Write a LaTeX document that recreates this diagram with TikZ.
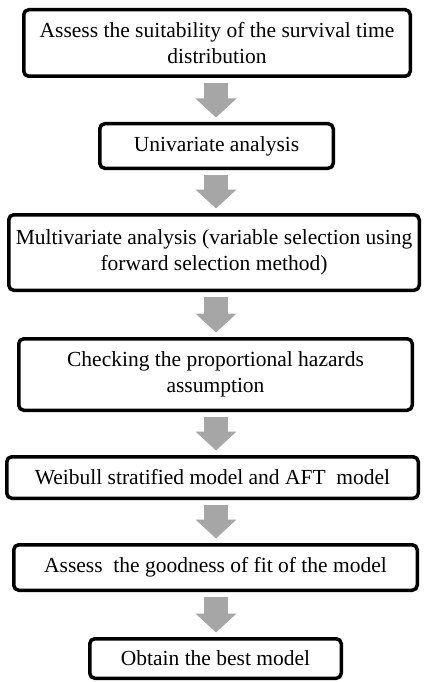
\documentclass[tikz,border=0pt]{standalone}
\usepackage{fontspec}
\setmainfont{Liberation Serif}
\usetikzlibrary{arrows.meta}
\definecolor{arrowgray}{RGB}{166,166,166}
\begin{document}
\begin{tikzpicture}[x=1pt,y=-1pt,
  stepbox/.style={draw=black, line width=3.5pt, rounded corners=5pt, fill=white,
    inner sep=0pt, align=center, font=\fontsize{21.5}{26}\selectfont},
  flow/.style={draw=arrowgray, line width=24pt,
    -{Triangle[width=40pt,length=19pt]}, shorten <=5pt, shorten >=4.5pt}]
\useasboundingbox (0,0) rectangle (424,682);
\coordinate (mid) at (216,0);
\node[stepbox, minimum width=386.5pt, minimum height=66.5pt] (b1) at (217,43)
  {Assess the suitability of the survival time\\distribution};
\node[stepbox, minimum width=233.5pt, minimum height=44.5pt] (b2) at (216.5,146)
  {Univariate analysis};
\node[stepbox, minimum width=410.5pt, minimum height=75.5pt] (b3) at (214,252.5)
  {Multivariate analysis (variable selection using\\forward selection method)};
\node[stepbox, minimum width=393.5pt, minimum height=71.5pt] (b4) at (215.5,374.5)
  {Checking the proportional hazards\\assumption};
\node[stepbox, minimum width=411.5pt, minimum height=41.5pt] (b5) at (212.5,477.5)
  {Weibull stratified model and AFT\ \ model};
\node[stepbox, minimum width=403.5pt, minimum height=45.5pt] (b6) at (215.5,567.5)
  {Assess\ \ the goodness of fit of the model};
\node[stepbox, minimum width=251.5pt, minimum height=39.5pt] (b7) at (215.5,658.5)
  {Obtain the best model};
\draw[flow] (b1.south -| mid) -- (b2.north -| mid);
\draw[flow] (b2.south -| mid) -- (b3.north -| mid);
\draw[flow] (b3.south -| mid) -- (b4.north -| mid);
\draw[flow] (b4.south -| mid) -- (b5.north -| mid);
\draw[flow] (b5.south -| mid) -- (b6.north -| mid);
\draw[flow] (b6.south -| mid) -- (b7.north -| mid);
\end{tikzpicture}
\end{document}
